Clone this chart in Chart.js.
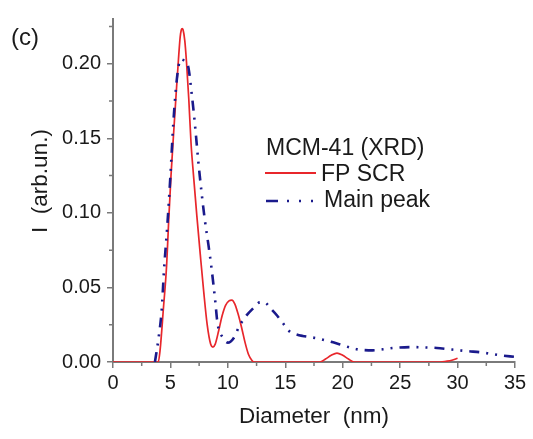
<!DOCTYPE html>
<html>
<head>
<meta charset="utf-8">
<script src="https://cdn.jsdelivr.net/npm/chart.js@4.4.1/dist/chart.umd.min.js"></script>
<style>
  html, body { margin: 0; padding: 0; background: #fff; }
  #wrap { width: 533px; height: 439px; }
</style>
</head>
<body>
<div id="wrap"><canvas id="chart" width="533" height="439"></canvas></div>
<script>
// FP SCR (red, solid)
const fpX = [0, 3.94, 4.1, 4.38, 4.67, 4.85, 5.05, 5.25, 5.5, 5.7, 5.85, 5.95, 6.02, 6.1, 6.25, 6.4, 6.6, 6.8, 7.0, 7.3, 7.6, 7.9, 8.2, 8.5, 8.7, 8.9, 9.2, 9.5, 9.8, 10.1, 10.35, 10.6, 10.9, 11.2, 11.5, 11.8, 12.1, 12.3, 18.0, 18.5, 19.0, 19.5, 20.0, 20.5, 21.0, 28.5, 29.0, 29.5, 30.0];
const fpY = [0, 0, 0.008, 0.035, 0.065, 0.095, 0.125, 0.15, 0.18, 0.203, 0.218, 0.2228, 0.2236, 0.2228, 0.2155, 0.201, 0.176, 0.146, 0.126, 0.098, 0.072, 0.047, 0.025, 0.012, 0.010, 0.012, 0.021, 0.031, 0.038, 0.041, 0.0415, 0.039, 0.032, 0.023, 0.013, 0.005, 0.001, 0, 0, 0.002, 0.0045, 0.006, 0.0045, 0.002, 0, 0, 0.0005, 0.0012, 0.0025];

// Main peak (blue, dash-dot-dot)
const mainX = [3.65, 3.94, 4.24, 4.44, 4.72, 5.0, 5.25, 5.5, 5.7, 5.9, 6.2, 6.55, 6.85, 7.1, 7.28, 7.42, 7.72, 8.0, 8.3, 8.6, 8.9, 9.1, 9.6, 10.0, 10.5, 11.0, 11.6, 12.2, 12.8, 13.2, 13.7, 14.3, 14.8, 15.3, 15.8, 16.5, 17.3, 18.0, 19.0, 20.0, 21.2, 22.6, 23.5, 24.4, 26.0, 27.0, 28.2, 29.2, 30.2, 31.0, 31.9, 32.8, 33.7, 35.0];
const mainY = [0, 0.0146, 0.035, 0.0615, 0.0905, 0.125, 0.16, 0.185, 0.198, 0.203, 0.202, 0.198, 0.18, 0.162, 0.147, 0.135, 0.113, 0.095, 0.079, 0.0615, 0.041, 0.026, 0.016, 0.013, 0.016, 0.024, 0.031, 0.036, 0.040, 0.040, 0.036, 0.031, 0.026, 0.021, 0.019, 0.0175, 0.0165, 0.0155, 0.0135, 0.0112, 0.0086, 0.0078, 0.0085, 0.0094, 0.010, 0.0098, 0.0094, 0.0086, 0.0078, 0.0072, 0.0066, 0.0056, 0.0045, 0.0034];

const xMin = 0, xMax = 35, xStep = 5;
const yMin = 0, yMax = 0.23, yStep = 0.05;

const legendTitle = 'MCM-41 (XRD)';
const seriesNames = ['FP SCR', 'Main peak'];
const panelLabel = '(c)';
const xTitle = 'Diameter  (nm)';
const yTitle = 'I  (arb.un.)';

const RED = '#e8262b';
const BLUE = '#1a1a8c';
const AXIS = '#7a7a7a';
const TEXT = '#1a1a1a';
const FONT = '"Liberation Sans", Arial, sans-serif';

function toPoints(xs, ys) {
    return xs.map((x, i) => ({ x: x, y: ys[i] }));
}

// minor ticks, titles, legend and panel label
const extrasPlugin = {
    id: 'extras',
    afterDraw(chart) {
        const { ctx, chartArea, scales: { x, y } } = chart;
        ctx.save();

        // minor ticks halfway between the major ones
        ctx.strokeStyle = AXIS;
        ctx.lineWidth = 1.5;
        ctx.beginPath();
        for (let v = xMin + xStep / 2; v < xMax; v += xStep) {
            const px = x.getPixelForValue(v);
            ctx.moveTo(px, chartArea.bottom);
            ctx.lineTo(px, chartArea.bottom + 4);
        }
        for (let v = yMin + yStep / 2; v < yMax; v += yStep) {
            const py = y.getPixelForValue(v);
            ctx.moveTo(chartArea.left, py);
            ctx.lineTo(chartArea.left - 4, py);
        }
        ctx.stroke();

        ctx.fillStyle = TEXT;

        // panel label
        ctx.font = '24px ' + FONT;
        ctx.textAlign = 'left';
        ctx.textBaseline = 'alphabetic';
        ctx.fillText(panelLabel, 11, 45);

        // x title
        ctx.font = '22.5px ' + FONT;
        ctx.textAlign = 'center';
        ctx.fillText(xTitle, 314, 423);

        // y title
        ctx.save();
        ctx.translate(47, 181);
        ctx.rotate(-Math.PI / 2);
        ctx.fillText(yTitle, 0, 0);
        ctx.restore();

        // legend
        ctx.textAlign = 'left';
        ctx.font = '23px ' + FONT;
        ctx.fillText(legendTitle, 266, 155);
        ctx.fillText(seriesNames[0], 321, 181);
        ctx.fillText(seriesNames[1], 324, 207);

        ctx.strokeStyle = RED;
        ctx.lineWidth = 1.8;
        ctx.beginPath();
        ctx.moveTo(265, 173);
        ctx.lineTo(316, 173);
        ctx.stroke();

        ctx.strokeStyle = BLUE;
        ctx.lineWidth = 2.6;
        ctx.setLineDash([12, 9, 2, 10, 2, 10, 2, 10]);
        ctx.beginPath();
        ctx.moveTo(266, 201);
        ctx.lineTo(320, 201);
        ctx.stroke();

        ctx.restore();
    }
};

const chart = new Chart(document.getElementById('chart'), {
    type: 'line',
    data: {
        datasets: [
            {
                label: seriesNames[1],
                data: toPoints(mainX, mainY),
                borderColor: BLUE,
                borderWidth: 2.6,
                borderDash: [10, 7, 2, 7, 2, 7],
                pointRadius: 0,
                cubicInterpolationMode: 'monotone',
                fill: false,
                order: 0
            },
            {
                label: seriesNames[0],
                data: toPoints(fpX, fpY),
                borderColor: RED,
                borderWidth: 1.7,
                pointRadius: 0,
                cubicInterpolationMode: 'monotone',
                fill: false,
                order: 1
            }
        ]
    },
    options: {
        responsive: false,
        animation: false,
        events: [],
        layout: { padding: { top: 19, right: 18, bottom: 0, left: 0 } },
        plugins: {
            legend: { display: false },
            tooltip: { enabled: false }
        },
        scales: {
            x: {
                type: 'linear',
                min: xMin,
                max: xMax,
                afterFit(scale) { scale.height = 77; },
                border: { display: true, color: AXIS, width: 2 },
                grid: { drawOnChartArea: false, drawTicks: true, tickLength: 6, color: AXIS, lineWidth: 1.5 },
                ticks: {
                    stepSize: xStep,
                    padding: 3,
                    color: TEXT,
                    font: { family: FONT, size: 20 },
                    maxRotation: 0
                }
            },
            y: {
                type: 'linear',
                min: yMin,
                max: yMax,
                afterFit(scale) { scale.width = 113; },
                afterBuildTicks(scale) {
                    scale.ticks = scale.ticks.filter(t => Math.abs(t.value / yStep - Math.round(t.value / yStep)) < 1e-6);
                },
                border: { display: true, color: AXIS, width: 2 },
                grid: { drawOnChartArea: false, drawTicks: true, tickLength: 6, color: AXIS, lineWidth: 1.5 },
                ticks: {
                    stepSize: yStep,
                    padding: 6,
                    color: TEXT,
                    font: { family: FONT, size: 20 },
                    callback: v => v.toFixed(2)
                }
            }
        }
    },
    plugins: [extrasPlugin]
});
</script>
</body>
</html>
